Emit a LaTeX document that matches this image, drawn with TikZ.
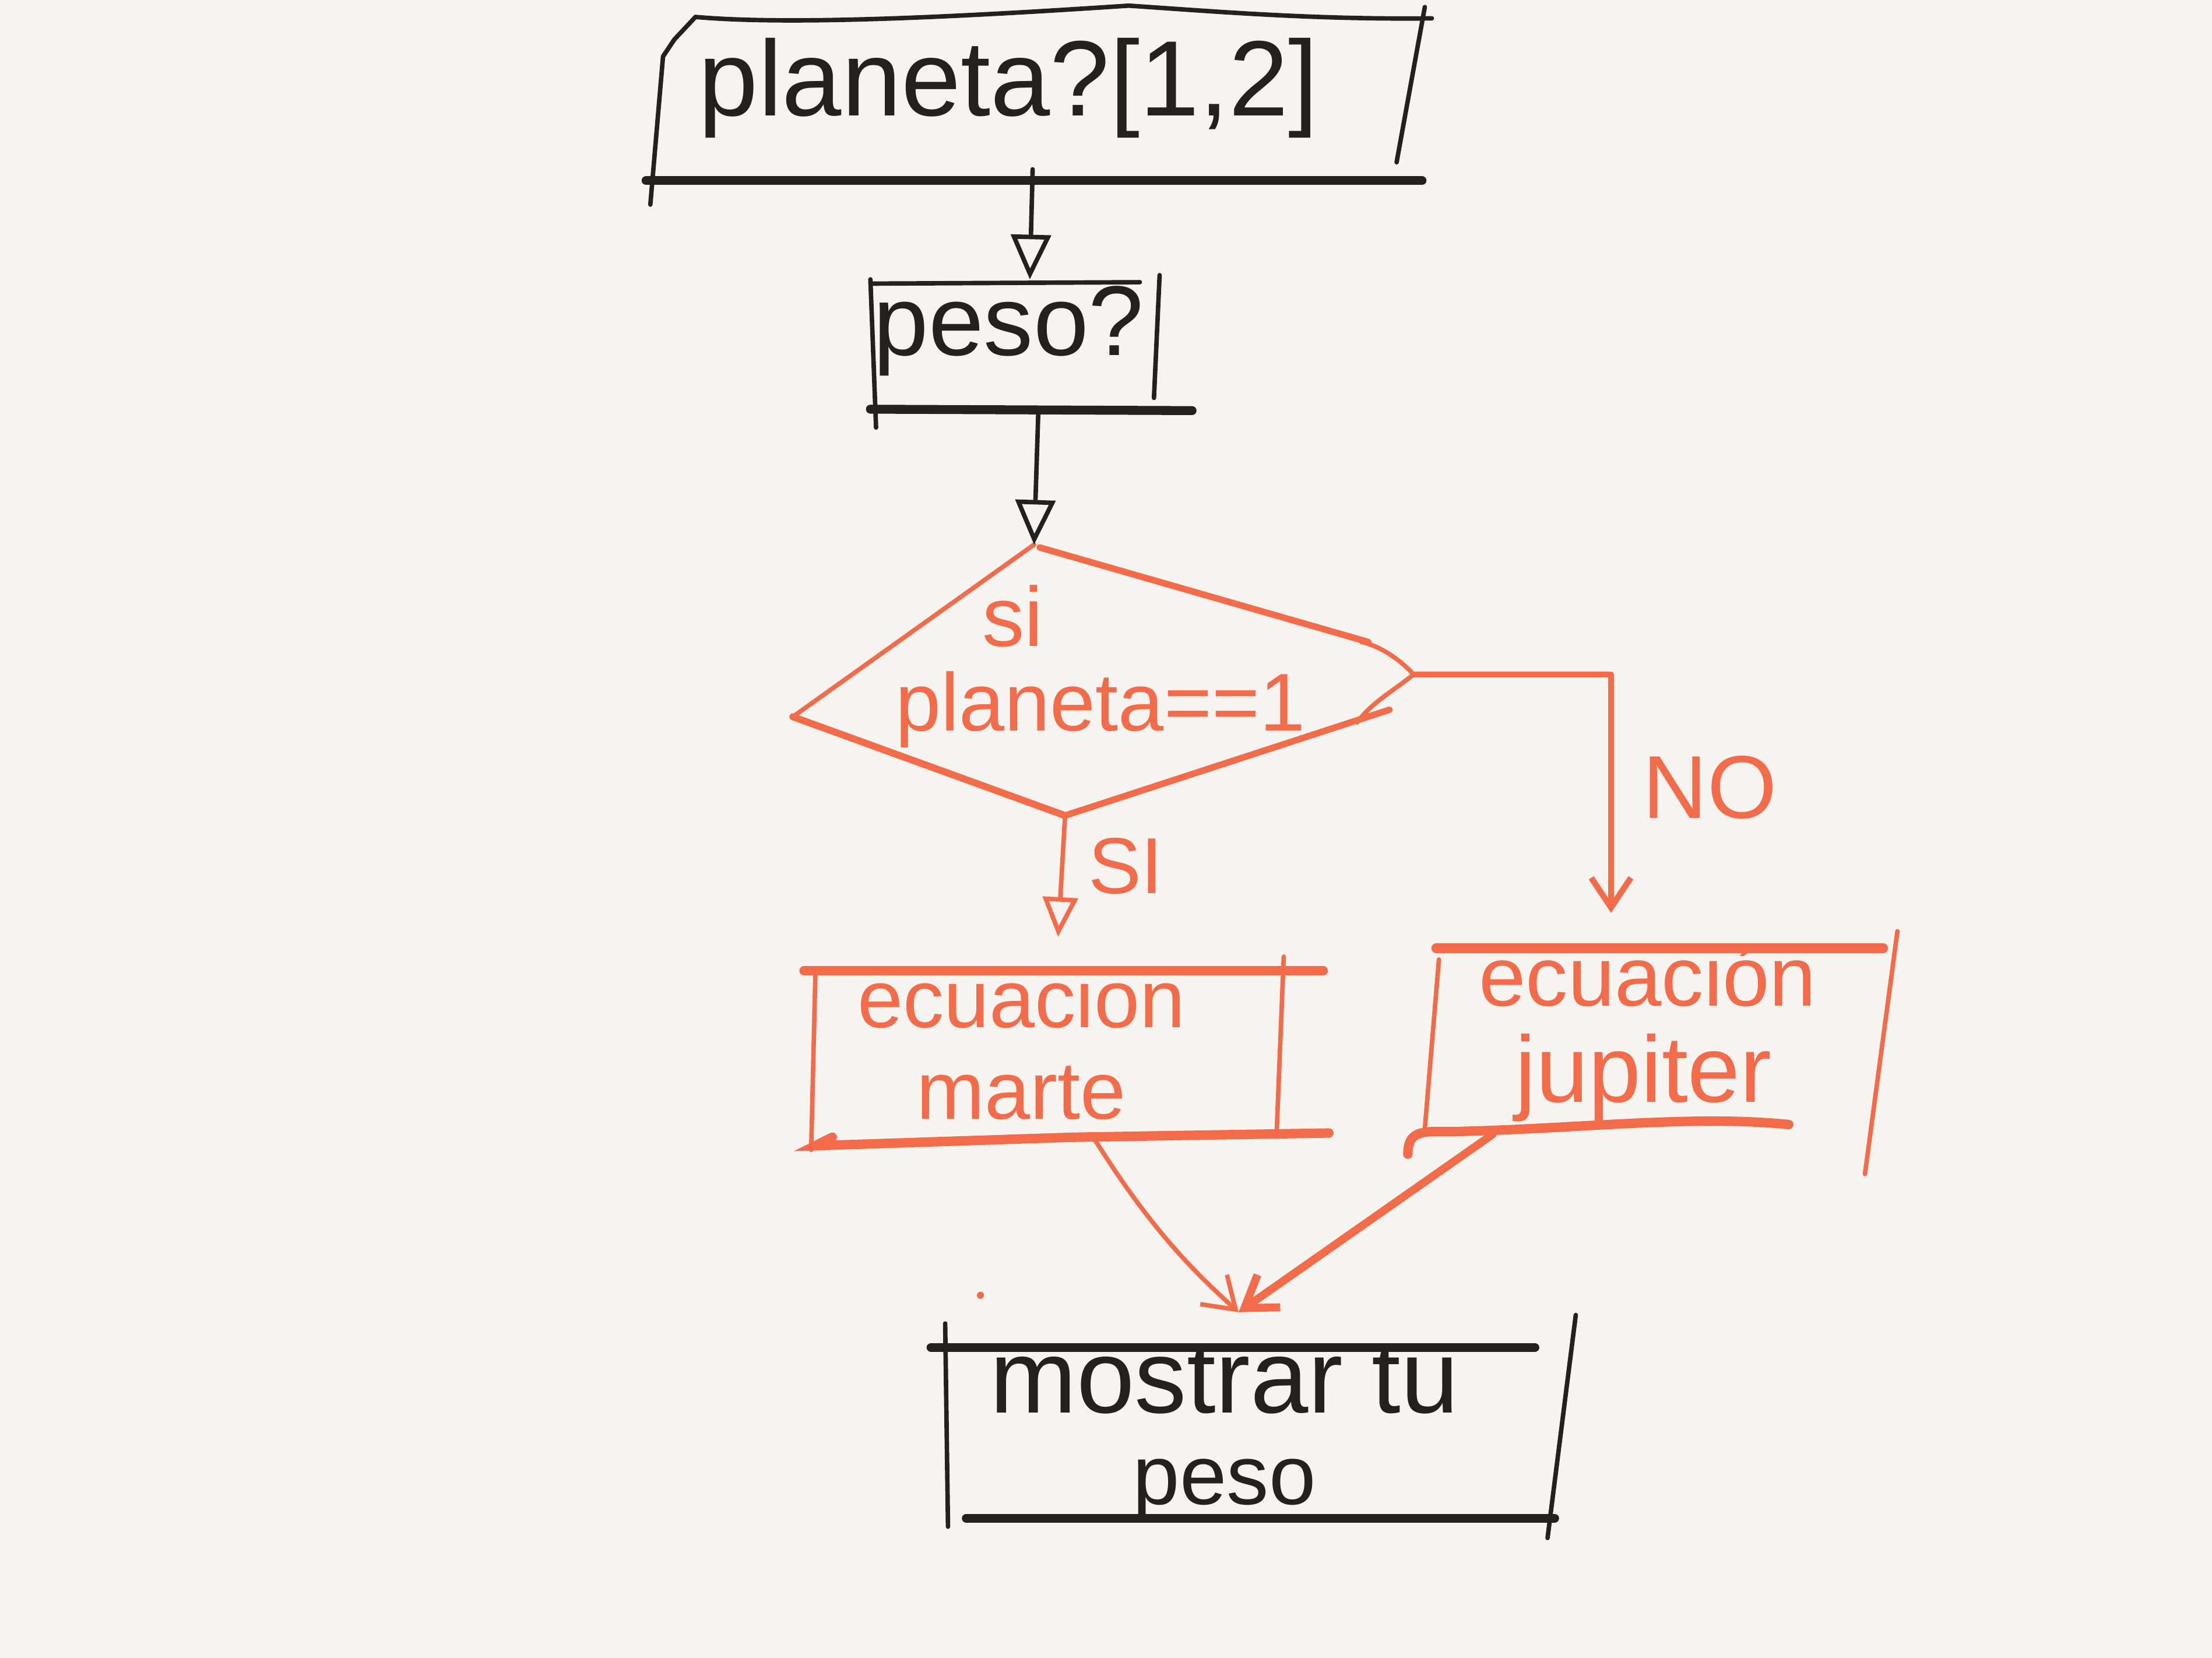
\documentclass[tikz,border=0pt]{standalone}
\usepackage{fontspec}
\setmainfont{Liberation Sans}
\usetikzlibrary{arrows.meta}
\definecolor{bgc}{RGB}{245,244,240}
\definecolor{ink}{RGB}{35,33,30}
\definecolor{org}{RGB}{244,107,74}
\tikzset{
  blk/.style={draw=ink, line width=0.9pt, line cap=round, line join=round},
  blkthick/.style={draw=ink, line width=1.8pt, line cap=round},
  orl/.style={draw=org, line width=0.9pt, line cap=round, line join=round},
  orthick/.style={draw=org, line width=1.9pt, line cap=round},
  lbl/.style={inner sep=0pt, anchor=base, text=ink},
  olbl/.style={inner sep=0pt, anchor=base, text=org},
  blkarrow/.style={blk, -{Triangle[open, length=9pt, width=8pt]}},
  orarrow/.style={orl, -{Triangle[open, length=8pt, width=7pt]}},
  orbarb/.style={orl, -{Straight Barb[length=6pt, width=8pt]}}
}
\begin{document}
\begin{tikzpicture}[x=0.01cm, y=-0.01cm]
\fill[bgc] (0,0) rectangle (1568,1175);
\useasboundingbox (0,0) rectangle (1568,1175);

% ---------- box 1: planeta?[1,2]
\draw[blk] (461,145) -- (470,40) -- (478,28) -- (493,12);
\draw[blk] (493,12) .. controls (560,18) and (680,12) .. (800,4) .. controls (860,8) and (930,14) .. (1015,13);
\draw[blk] (1010,5) -- (990,115);
\draw[blkthick] (458,128) -- (1008,128);
\node[lbl, font=\fontsize{21.6}{24}\selectfont] (t1) at (715,82) {planeta?[1,2]};
\coordinate (b1s) at (732,120);

% ---------- box 2: peso?
\draw[blk] (617,198) -- (621,303);
\draw[blk] (617,201) -- (808,200);
\draw[blk] (822,195) -- (818,282);
\draw[blkthick] (617,290) -- (845,291);
\node[lbl, font=\fontsize{20}{24}\selectfont] (t2) at (715,252) {peso?};
\coordinate (b2n) at (730,198);
\coordinate (b2s) at (736,292);

% ---------- diamond
\coordinate (dT) at (733,386);
\coordinate (dL) at (562,508);
\coordinate (dB) at (755,578);
\coordinate (dR) at (1002,478);
\draw[orl] (dT) -- (dL);
\draw[orl, line width=1.4pt] (dL) -- (dB);
\draw[orl, line width=1.3pt] (dB) -- (985,503);
\draw[orl, line width=1.3pt] (737,388) -- (970,455);
\draw[orl] (965,455) .. controls (980,458) and (995,470) .. (dR) .. controls (990,488) and (972,498) .. (962,512);
\node[olbl, font=\fontsize{17}{20}\selectfont] (t3) at (718,458) {si};
\node[olbl, font=\fontsize{16.5}{20}\selectfont] (t4) at (780,518) {planeta==1};

% arrows into diamond
\draw[blkarrow] (b1s) -- (b2n);
\draw[blkarrow] (b2s) -- (dT);

% ---------- branch NO
\coordinate (noC) at (1142,478);
\coordinate (jupN) at (1142,647);
\draw[orbarb, line width=1.2pt] (dR) -- (noC) -- (jupN);
\node[olbl, font=\fontsize{18}{22}\selectfont] (tno) at (1212,580) {NO};

% ---------- branch SI
\coordinate (marN) at (750,664);
\draw[orarrow] (dB) -- (marN);
\node[olbl, font=\fontsize{16}{20}\selectfont] (tsi) at (798,633) {SI};

% ---------- box marte
\draw[orthick] (570,688) -- (938,688);
\draw[orl] (578,690) -- (575,815);
\draw[orl] (910,678) -- (905,802);
\draw[orthick] (590,806) -- (578,812) -- (760,806) -- (942,803);
\node[inner sep=0pt, text=org, align=center, font=\fontsize{16.5}{18.5}\selectfont] (t5) at (724,740) {ecuacion\\marte};
\coordinate (marS) at (775,806);

% ---------- box jupiter
\draw[orthick] (1018,672) -- (1335,672);
\draw[orl] (1020,680) -- (1010,800);
\draw[orl] (1345,660) -- (1322,832);
\draw[orthick] (998,818) .. controls (998,800) and (1010,802) .. (1030,802) .. controls (1120,800) and (1200,790) .. (1268,797);
\node[olbl, font=\fontsize{17}{22}\selectfont] (t7) at (1168,713) {ecuación};
\node[olbl, font=\fontsize{19}{22}\selectfont] (t8) at (1165,781) {jupiter};
\coordinate (jupS) at (1058,804);

% ---------- converging connectors
\coordinate (fin) at (878,930);
\draw[orbarb] (marS) .. controls (815,870) and (845,900) .. (fin);
\draw[orbarb, line width=1.6pt] (jupS) -- (fin);
\fill[org] (695,918) circle (2.5);

% ---------- box mostrar tu peso
\draw[blkthick] (660,955) -- (1088,955);
\draw[blk] (670,938) -- (672,1082);
\draw[blk] (1117,932) -- (1097,1090);
\draw[blkthick] (685,1076) -- (1102,1076);
\node[inner sep=0pt, text=ink, align=center, font=\fontsize{21}{18.5}\selectfont] (t9) at (868,1016) {mostrar tu\\{\fontsize{17}{18.5}\selectfont peso}};
\end{tikzpicture}
\end{document}
